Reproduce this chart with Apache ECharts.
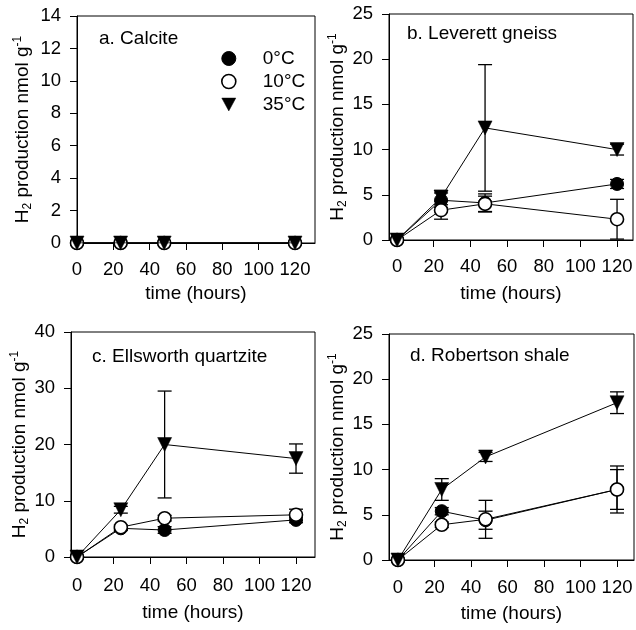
<!DOCTYPE html>
<html><head><meta charset="utf-8">
<script src="https://cdn.jsdelivr.net/npm/echarts@6/dist/echarts.min.js"></script>
<style>html,body{margin:0;padding:0;background:#fff}#c{width:636px;height:630px}</style>
</head><body><div id="c"></div>
<script>
// ---------- data ----------
const hours = [0, 24, 48, 120];
const tempNames = ['0°C', '10°C', '35°C'];
const xTicks = [0, 20, 40, 60, 80, 100, 120];
const panelTitles = ['a. Calcite', 'b. Leverett gneiss', 'c. Ellsworth quartzite', 'd. Robertson shale'];
const xAxisTitle = 'time (hours)';

// a. Calcite
const calcite0 = [0, 0, 0, 0];       const calcite0Err = [0, 0, 0, 0];
const calcite10 = [0, 0, 0, 0];      const calcite10Err = [0, 0, 0, 0];
const calcite35 = [0, 0, 0, 0];      const calcite35Err = [0, 0, 0, 0];
// b. Leverett gneiss
const leverett0 = [0, 4.4, 4.1, 6.2];   const leverett0Err = [0, 0.8, 1.0, 0.5];
const leverett10 = [0, 3.3, 4.0, 2.3];  const leverett10Err = [0, 1.0, 0.85, 2.2];
const leverett35 = [0, 4.7, 12.4, 10.0]; const leverett35Err = [0, 0.8, 7.0, 0.6];
// c. Ellsworth quartzite
const ellsworth0 = [0, 5.1, 4.8, 6.6];   const ellsworth0Err = [0, 0.4, 0.6, 0.5];
const ellsworth10 = [0, 5.3, 6.9, 7.5];  const ellsworth10Err = [0, 0.4, 0.5, 1.0];
const ellsworth35 = [0, 8.4, 20.0, 17.5]; const ellsworth35Err = [0, 0.6, 9.5, 2.6];
// d. Robertson shale
const robertson0 = [0, 5.4, 4.4, 7.8];   const robertson0Err = [0, 0.4, 1.0, 2.6];
const robertson10 = [0, 3.9, 4.5, 7.8];  const robertson10Err = [0, 0.3, 2.1, 2.2];
const robertson35 = [0, 7.8, 11.4, 17.4]; const robertson35Err = [0, 1.2, 0.5, 1.2];

// y axis ranges
const yMax = [14, 25, 40, 25];
const yStep = [2, 5, 10, 5];

const panelValues = [
  [[calcite0, calcite0Err], [calcite10, calcite10Err], [calcite35, calcite35Err]],
  [[leverett0, leverett0Err], [leverett10, leverett10Err], [leverett35, leverett35Err]],
  [[ellsworth0, ellsworth0Err], [ellsworth10, ellsworth10Err], [ellsworth35, ellsworth35Err]],
  [[robertson0, robertson0Err], [robertson10, robertson10Err], [robertson35, robertson35Err]]
];

// ---------- layout ----------
const FONT = "'Liberation Sans', Arial, sans-serif";
const TICK_FS = 18.5, TEXT_FS = 19;
const layout = [
  {left: 77, top: 16, width: 238, height: 227, xmin: 0, xmax: 131, xMargin: 17, xGap: 41, yGap: 43, tx: 99, ty: 40},
  {left: 389, top: 14, width: 244, height: 226, xmin: -4.4, xmax: 128.7, xMargin: 17, xGap: 44, yGap: 36, tx: 407, ty: 35},
  {left: 71, top: 332, width: 244, height: 225, xmin: -3.3, xmax: 130.4, xMargin: 19, xGap: 46, yGap: 36, tx: 92, ty: 358},
  {left: 389, top: 334, width: 245, height: 226, xmin: -4.9, xmax: 129.3, xMargin: 18, xGap: 44, yGap: 34, tx: 410, ty: 357}
];

const symbols = [
  {symbol: 'circle', size: 13, itemStyle: {color: '#000', borderColor: '#000', borderWidth: 1}},
  {symbol: 'circle', size: 13, itemStyle: {color: '#fff', borderColor: '#000', borderWidth: 1.6}},
  {symbol: 'path://M0,0L12,0L6,11Z', size: 14, itemStyle: {color: '#000', borderColor: '#000', borderWidth: 0.5}}
];

function errRender(params, api) {
  const x = api.value(0), lo = api.value(1), hi = api.value(2);
  if (!(hi - lo > 0)) return;
  const p1 = api.coord([x, lo]), p2 = api.coord([x, hi]);
  const w = 7;
  const st = {stroke: '#000', lineWidth: 1.3};
  return {type: 'group', children: [
    {type: 'line', shape: {x1: p1[0], y1: p1[1], x2: p2[0], y2: p2[1]}, style: st},
    {type: 'line', shape: {x1: p1[0] - w, y1: p1[1], x2: p1[0] + w, y2: p1[1]}, style: st},
    {type: 'line', shape: {x1: p2[0] - w, y1: p2[1], x2: p2[0] + w, y2: p2[1]}, style: st}
  ]};
}

const grids = [], xAxes = [], yAxes = [], series = [], graphics = [];
layout.forEach((L, i) => {
  grids.push({left: L.left, top: L.top, width: L.width, height: L.height, show: true,
    borderColor: '#000', borderWidth: 1, backgroundColor: 'transparent'});
  xAxes.push({type: 'value', gridIndex: i, min: L.xmin, max: L.xmax,
    name: xAxisTitle, nameLocation: 'middle', nameGap: L.xGap,
    nameTextStyle: {fontFamily: FONT, fontSize: TEXT_FS, color: '#000'},
    axisLine: {show: true, onZero: false, lineStyle: {color: '#000', width: 1}},
    axisTick: {show: true, length: 7, customValues: xTicks, lineStyle: {color: '#000'}},
    axisLabel: {customValues: xTicks, margin: L.xMargin, fontFamily: FONT, fontSize: TICK_FS, color: '#000'},
    splitLine: {show: false}});
  yAxes.push({type: 'value', gridIndex: i, min: 0, max: yMax[i], interval: yStep[i],
    name: 'H{sub|2} production nmol g{sup|-1}', nameLocation: 'middle', nameGap: L.yGap,
    nameTextStyle: {fontFamily: FONT, fontSize: TEXT_FS, color: '#000', lineHeight: 22,
      rich: {
        sub: {fontFamily: FONT, fontSize: 12, color: '#000', verticalAlign: 'bottom', lineHeight: 12},
        sup: {fontFamily: FONT, fontSize: 12, color: '#000', verticalAlign: 'top', lineHeight: 12}
      }},
    axisLine: {show: true, onZero: false, lineStyle: {color: '#000', width: 1}},
    axisTick: {show: true, length: 7, lineStyle: {color: '#000'}},
    axisLabel: {margin: 16, fontFamily: FONT, fontSize: TICK_FS, color: '#000'},
    splitLine: {show: false}});
  panelValues[i].forEach((pair, k) => {
    const vals = pair[0], errs = pair[1];
    series.push({type: 'custom', name: tempNames[k] + ' error', xAxisIndex: i, yAxisIndex: i, z: 1,
      renderItem: errRender, encode: {x: 0, y: [1, 2]}, silent: true,
      data: hours.map((h, j) => [h, vals[j] - errs[j], vals[j] + errs[j]])});
  });
  panelValues[i].forEach((pair, k) => {
    const vals = pair[0];
    series.push({type: 'line', name: tempNames[k], xAxisIndex: i, yAxisIndex: i, z: 2 + k,
      symbol: symbols[k].symbol, symbolSize: symbols[k].size, showAllSymbol: true,
      itemStyle: symbols[k].itemStyle, lineStyle: {color: '#000', width: 1},
      emphasis: {disabled: true}, animation: false,
      data: hours.map((h, j) => [h, vals[j]])});
  });
  graphics.push({type: 'text', left: L.tx, top: L.ty - 11,
    style: {text: panelTitles[i], fontFamily: FONT, fontSize: TEXT_FS, fill: '#000'}});
});

const chart = echarts.init(document.getElementById('c'), null, {renderer: 'canvas'});
chart.setOption({
  animation: false,
  backgroundColor: '#fff',
  grid: grids, xAxis: xAxes, yAxis: yAxes, series: series, graphic: graphics,
  legend: {orient: 'vertical', left: 216, top: 44, itemWidth: 14, itemHeight: 14, itemGap: 4,
    selectedMode: false,
    textStyle: {fontFamily: FONT, fontSize: TEXT_FS, color: '#000', padding: [0, 0, 0, 22]},
    data: tempNames.map((n, k) => ({name: n, icon: symbols[k].symbol, itemStyle: symbols[k].itemStyle}))}
});
</script></body></html>
